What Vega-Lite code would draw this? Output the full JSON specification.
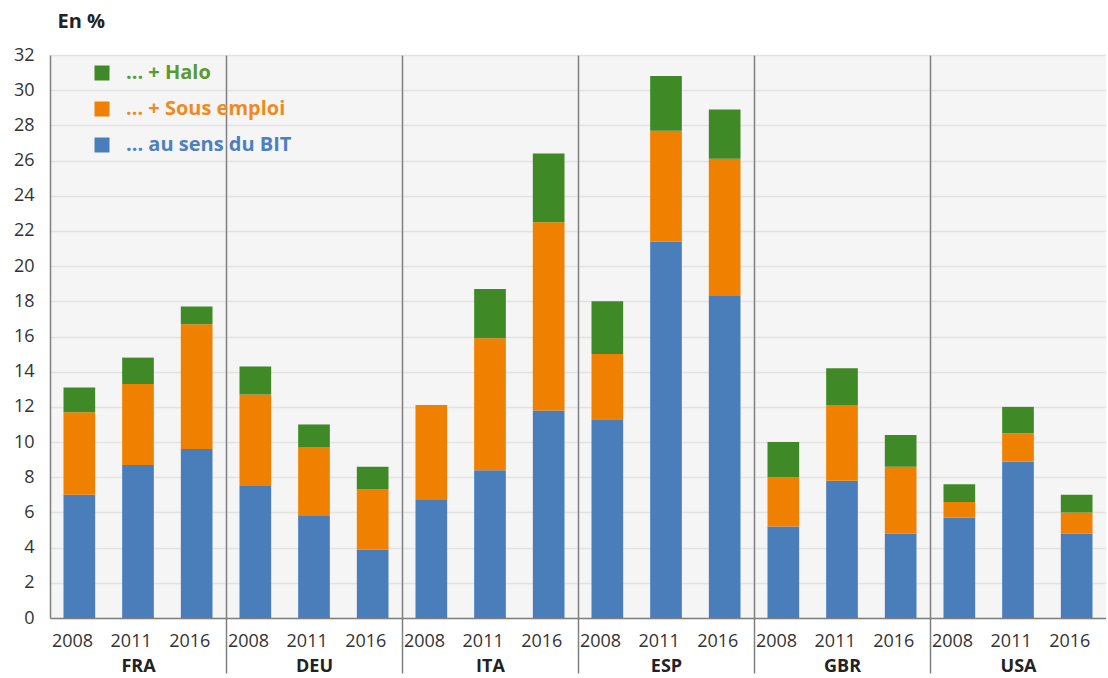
{
  "$schema": "https://vega.github.io/schema/vega-lite/v6.json",
  "autosize": {"type": "pad"},
  "padding": {"left": 13, "top": 11, "right": 0, "bottom": 0},
  "background": "white",
  "data": {"values": [
    {"pays": "FRA", "annee": "2008", "serie": "... au sens du BIT", "valeur": 7.0},
    {"pays": "FRA", "annee": "2008", "serie": "... + Sous emploi", "valeur": 4.7},
    {"pays": "FRA", "annee": "2008", "serie": "... + Halo", "valeur": 1.4},
    {"pays": "FRA", "annee": "2011", "serie": "... au sens du BIT", "valeur": 8.7},
    {"pays": "FRA", "annee": "2011", "serie": "... + Sous emploi", "valeur": 4.6},
    {"pays": "FRA", "annee": "2011", "serie": "... + Halo", "valeur": 1.5},
    {"pays": "FRA", "annee": "2016", "serie": "... au sens du BIT", "valeur": 9.6},
    {"pays": "FRA", "annee": "2016", "serie": "... + Sous emploi", "valeur": 7.1},
    {"pays": "FRA", "annee": "2016", "serie": "... + Halo", "valeur": 1.0},
    {"pays": "DEU", "annee": "2008", "serie": "... au sens du BIT", "valeur": 7.5},
    {"pays": "DEU", "annee": "2008", "serie": "... + Sous emploi", "valeur": 5.2},
    {"pays": "DEU", "annee": "2008", "serie": "... + Halo", "valeur": 1.6},
    {"pays": "DEU", "annee": "2011", "serie": "... au sens du BIT", "valeur": 5.8},
    {"pays": "DEU", "annee": "2011", "serie": "... + Sous emploi", "valeur": 3.9},
    {"pays": "DEU", "annee": "2011", "serie": "... + Halo", "valeur": 1.3},
    {"pays": "DEU", "annee": "2016", "serie": "... au sens du BIT", "valeur": 3.9},
    {"pays": "DEU", "annee": "2016", "serie": "... + Sous emploi", "valeur": 3.4},
    {"pays": "DEU", "annee": "2016", "serie": "... + Halo", "valeur": 1.3},
    {"pays": "ITA", "annee": "2008", "serie": "... au sens du BIT", "valeur": 6.7},
    {"pays": "ITA", "annee": "2008", "serie": "... + Sous emploi", "valeur": 5.4},
    {"pays": "ITA", "annee": "2008", "serie": "... + Halo", "valeur": 0.0},
    {"pays": "ITA", "annee": "2011", "serie": "... au sens du BIT", "valeur": 8.4},
    {"pays": "ITA", "annee": "2011", "serie": "... + Sous emploi", "valeur": 7.5},
    {"pays": "ITA", "annee": "2011", "serie": "... + Halo", "valeur": 2.8},
    {"pays": "ITA", "annee": "2016", "serie": "... au sens du BIT", "valeur": 11.8},
    {"pays": "ITA", "annee": "2016", "serie": "... + Sous emploi", "valeur": 10.7},
    {"pays": "ITA", "annee": "2016", "serie": "... + Halo", "valeur": 3.9},
    {"pays": "ESP", "annee": "2008", "serie": "... au sens du BIT", "valeur": 11.3},
    {"pays": "ESP", "annee": "2008", "serie": "... + Sous emploi", "valeur": 3.7},
    {"pays": "ESP", "annee": "2008", "serie": "... + Halo", "valeur": 3.0},
    {"pays": "ESP", "annee": "2011", "serie": "... au sens du BIT", "valeur": 21.4},
    {"pays": "ESP", "annee": "2011", "serie": "... + Sous emploi", "valeur": 6.3},
    {"pays": "ESP", "annee": "2011", "serie": "... + Halo", "valeur": 3.1},
    {"pays": "ESP", "annee": "2016", "serie": "... au sens du BIT", "valeur": 18.3},
    {"pays": "ESP", "annee": "2016", "serie": "... + Sous emploi", "valeur": 7.8},
    {"pays": "ESP", "annee": "2016", "serie": "... + Halo", "valeur": 2.8},
    {"pays": "GBR", "annee": "2008", "serie": "... au sens du BIT", "valeur": 5.2},
    {"pays": "GBR", "annee": "2008", "serie": "... + Sous emploi", "valeur": 2.8},
    {"pays": "GBR", "annee": "2008", "serie": "... + Halo", "valeur": 2.0},
    {"pays": "GBR", "annee": "2011", "serie": "... au sens du BIT", "valeur": 7.8},
    {"pays": "GBR", "annee": "2011", "serie": "... + Sous emploi", "valeur": 4.3},
    {"pays": "GBR", "annee": "2011", "serie": "... + Halo", "valeur": 2.1},
    {"pays": "GBR", "annee": "2016", "serie": "... au sens du BIT", "valeur": 4.8},
    {"pays": "GBR", "annee": "2016", "serie": "... + Sous emploi", "valeur": 3.8},
    {"pays": "GBR", "annee": "2016", "serie": "... + Halo", "valeur": 1.8},
    {"pays": "USA", "annee": "2008", "serie": "... au sens du BIT", "valeur": 5.7},
    {"pays": "USA", "annee": "2008", "serie": "... + Sous emploi", "valeur": 0.9},
    {"pays": "USA", "annee": "2008", "serie": "... + Halo", "valeur": 1.0},
    {"pays": "USA", "annee": "2011", "serie": "... au sens du BIT", "valeur": 8.9},
    {"pays": "USA", "annee": "2011", "serie": "... + Sous emploi", "valeur": 1.6},
    {"pays": "USA", "annee": "2011", "serie": "... + Halo", "valeur": 1.5},
    {"pays": "USA", "annee": "2016", "serie": "... au sens du BIT", "valeur": 4.8},
    {"pays": "USA", "annee": "2016", "serie": "... + Sous emploi", "valeur": 1.2},
    {"pays": "USA", "annee": "2016", "serie": "... + Halo", "valeur": 1.0}
  ]},
  "spacing": 0,
  "bounds": "flush",
  "resolve": {"axis": {"y": "independent"}},
  "hconcat": [
    {
      "width": 176, "height": 563,
      "transform": [{"filter": "datum.pays === 'FRA'"}],
      "mark": {"type": "bar"},
      "encoding": {
        "x": {"field": "annee", "type": "nominal", "title": "FRA", "scale": {"paddingInner": 0.46, "paddingOuter": 0.23}, "axis": {"tickOpacity": 0, "tickOffset": -29.35, "labelOffset": 22}},
        "y": {"field": "valeur", "type": "quantitative", "stack": "zero", "scale": {"domain": [0, 32], "nice": false},
              "axis": {"title": "En %", "titleAngle": 0, "titleAlign": "left", "titleBaseline": "alphabetic", "titleX": 7, "titleY": -28, "titleFontSize": 20, "titleFontWeight": "bold", "titleColor": "#222222"}},
        "color": {"field": "serie", "type": "nominal",
                  "scale": {"domain": ["... + Halo", "... + Sous emploi", "... au sens du BIT"], "range": ["#3f8a26", "#f08000", "#4a7ebb"]},
                  "legend": {"title": null, "orient": "none", "legendX": 42, "legendY": 8, "zindex": 1, "padding": 0, "symbolType": "square", "symbolSize": 225, "symbolStrokeWidth": 0, "labelFontSize": 20, "labelFontWeight": "bold", "labelOffset": 14, "rowPadding": 16, "labelLimit": 400,
                    "encode": {
                      "labels": {"update": {"fill": {"signal": "datum.value === '... + Halo' ? '#5a9a2e' : datum.value === '... + Sous emploi' ? '#f08a1e' : '#4d80c0'"}}},
                      "symbols": {"update": {"fill": {"signal": "datum.value === '... + Halo' ? '#3f8a26' : datum.value === '... + Sous emploi' ? '#f08000' : '#5b9bd5'"}, "stroke": {"value": "transparent"}}}
                    }}},
        "order": {"field": "serie", "sort": "descending"}
      }
    },
    {
      "width": 176, "height": 563,
      "transform": [{"filter": "datum.pays === 'DEU'"}],
      "mark": {"type": "bar"},
      "encoding": {
        "x": {"field": "annee", "type": "nominal", "title": "DEU", "scale": {"paddingInner": 0.46, "paddingOuter": 0.23}, "axis": {"tickOffset": -29.35, "labelOffset": 22, "tickColor": {"condition": {"test": "datum.value === '2008'", "value": "#7f7f7f"}, "value": "transparent"}}},
        "y": {"field": "valeur", "type": "quantitative", "stack": "zero", "scale": {"domain": [0, 32], "nice": false}, "axis": {"labels": false, "title": null}},
        "color": {"field": "serie", "type": "nominal"},
        "order": {"field": "serie", "sort": "descending"}
      }
    },
    {
      "width": 176, "height": 563,
      "transform": [{"filter": "datum.pays === 'ITA'"}],
      "mark": {"type": "bar"},
      "encoding": {
        "x": {"field": "annee", "type": "nominal", "title": "ITA", "scale": {"paddingInner": 0.46, "paddingOuter": 0.23}, "axis": {"tickOffset": -29.35, "labelOffset": 22, "tickColor": {"condition": {"test": "datum.value === '2008'", "value": "#7f7f7f"}, "value": "transparent"}}},
        "y": {"field": "valeur", "type": "quantitative", "stack": "zero", "scale": {"domain": [0, 32], "nice": false}, "axis": {"labels": false, "title": null}},
        "color": {"field": "serie", "type": "nominal"},
        "order": {"field": "serie", "sort": "descending"}
      }
    },
    {
      "width": 176, "height": 563,
      "transform": [{"filter": "datum.pays === 'ESP'"}],
      "mark": {"type": "bar"},
      "encoding": {
        "x": {"field": "annee", "type": "nominal", "title": "ESP", "scale": {"paddingInner": 0.46, "paddingOuter": 0.23}, "axis": {"tickOffset": -29.35, "labelOffset": 22, "tickColor": {"condition": {"test": "datum.value === '2008'", "value": "#7f7f7f"}, "value": "transparent"}}},
        "y": {"field": "valeur", "type": "quantitative", "stack": "zero", "scale": {"domain": [0, 32], "nice": false}, "axis": {"labels": false, "title": null}},
        "color": {"field": "serie", "type": "nominal"},
        "order": {"field": "serie", "sort": "descending"}
      }
    },
    {
      "width": 176, "height": 563,
      "transform": [{"filter": "datum.pays === 'GBR'"}],
      "mark": {"type": "bar"},
      "encoding": {
        "x": {"field": "annee", "type": "nominal", "title": "GBR", "scale": {"paddingInner": 0.46, "paddingOuter": 0.23}, "axis": {"tickOffset": -29.35, "labelOffset": 22, "tickColor": {"condition": {"test": "datum.value === '2008'", "value": "#7f7f7f"}, "value": "transparent"}}},
        "y": {"field": "valeur", "type": "quantitative", "stack": "zero", "scale": {"domain": [0, 32], "nice": false}, "axis": {"labels": false, "title": null}},
        "color": {"field": "serie", "type": "nominal"},
        "order": {"field": "serie", "sort": "descending"}
      }
    },
    {
      "width": 176, "height": 563,
      "transform": [{"filter": "datum.pays === 'USA'"}],
      "mark": {"type": "bar"},
      "encoding": {
        "x": {"field": "annee", "type": "nominal", "title": "USA", "scale": {"paddingInner": 0.46, "paddingOuter": 0.23}, "axis": {"tickOffset": -29.35, "labelOffset": 22, "tickColor": {"condition": {"test": "datum.value === '2008'", "value": "#7f7f7f"}, "value": "transparent"}}},
        "y": {"field": "valeur", "type": "quantitative", "stack": "zero", "scale": {"domain": [0, 32], "nice": false}, "axis": {"labels": false, "title": null}},
        "color": {"field": "serie", "type": "nominal"},
        "order": {"field": "serie", "sort": "descending"}
      }
    }
  ],
  "config": {
    "font": "Open Sans",
    "view": {"fill": "#f5f5f5", "stroke": null},
    "axisX": {
      "labelAngle": 0, "labelFontSize": 18, "labelColor": "#333333", "labelBaseline": "alphabetic",
      "labelPadding": -27, "tickSize": 55, "tickWidth": 1.5,
      "domainColor": "#7f7f7f", "domainWidth": 1.5, "grid": false,
      "titleFontSize": 18, "titleFontWeight": "bold", "titleColor": "#222222", "titleY": 53, "titleBaseline": "alphabetic"
    },
    "axisY": {
      "domainColor": "#7f7f7f", "domainWidth": 1.5, "ticks": false, "tickCount": 16,
      "grid": true, "gridColor": "#e3e3e3", "gridWidth": 1.5,
      "labelFontSize": 18, "labelColor": "#333333", "labelPadding": 16
    }
  }
}
